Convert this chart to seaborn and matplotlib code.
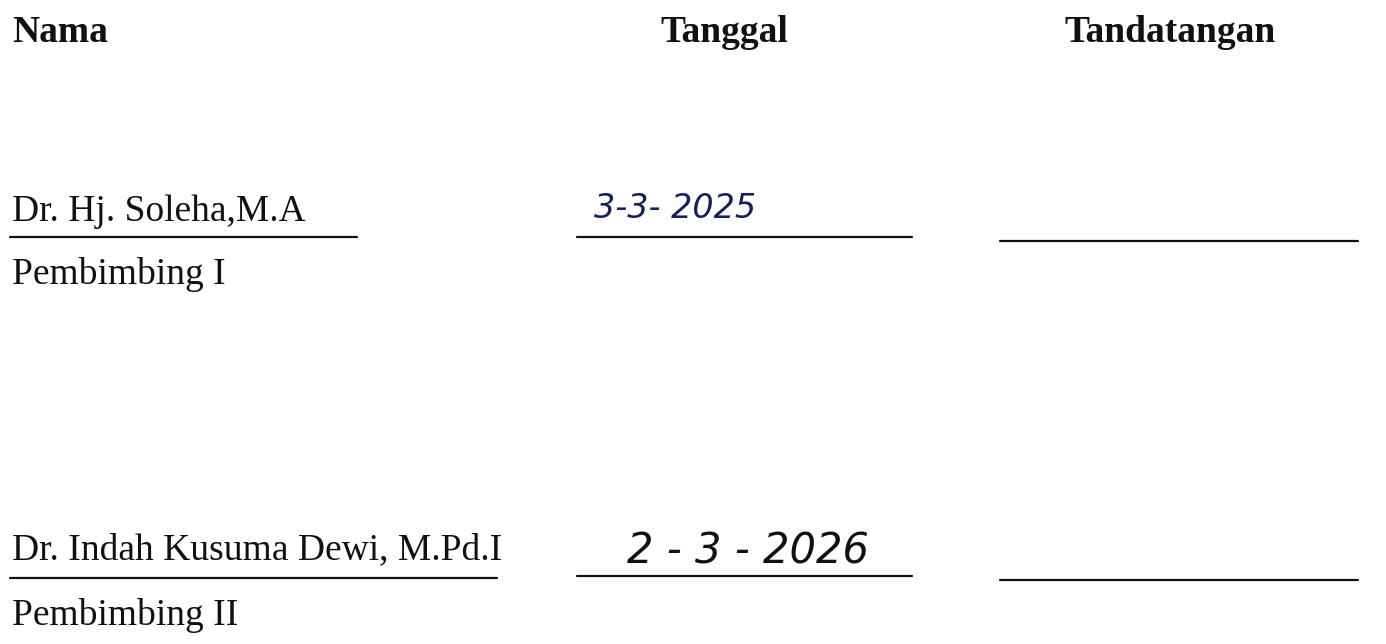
import matplotlib
matplotlib.use("Agg")
import matplotlib.pyplot as plt
import seaborn as sns
import pandas as pd

# ---- content ----
headers = ["Nama", "Tanggal", "Tandatangan"]
names = ["Dr. Hj. Soleha,M.A", "Dr. Indah Kusuma Dewi, M.Pd.I"]
roles = ["Pembimbing I", "Pembimbing II"]
dates = ["3-3- 2025", "2 - 3 - 2026"]
date_colors = ["#16205e", "#111111"]

# ---- layout (pixels) ----
W, H = 1386, 644
header_x = [12, 724, 1170]
header_ha = ["left", "center", "center"]
header_y = 42
name_y = [221, 559]
role_y = [284, 625]
date_x = [675, 748]
date_y = [218, 563]
date_size = [24, 30]
name_line = [(10, 357, 237), (10, 497, 578)]
date_line = [(577, 912, 237), (577, 912, 576)]
sig_line = [(1000, 1358, 241), (1000, 1358, 580)]

sns.set_theme(style="white")
plt.rcParams['font.family'] = ['Liberation Serif', 'DejaVu Serif']

fig = plt.figure(figsize=(W / 100, H / 100), dpi=100)
ax = fig.add_axes([0, 0, 1, 1])

for t, x, ha in zip(headers, header_x, header_ha):
    ax.text(x, header_y, t, fontsize=27, fontweight="bold", ha=ha, va="baseline", color="#111111")

for i in range(2):
    ax.text(12, name_y[i], names[i], fontsize=27, ha="left", va="baseline", color="#111111")
    ax.text(12, role_y[i], roles[i], fontsize=27, ha="left", va="baseline", color="#111111")
    ax.text(date_x[i], date_y[i], dates[i], fontsize=date_size[i], ha="center", va="baseline",
            color=date_colors[i], family=["DejaVu Sans"], style="italic")

all_lines = name_line + date_line + sig_line
segs = pd.DataFrame(
    [(x0, y) for (x0, x1, y) in all_lines] + [(x1, y) for (x0, x1, y) in all_lines],
    columns=["x", "y"])
segs["seg"] = list(range(len(all_lines))) * 2
sns.lineplot(data=segs, x="x", y="y", units="seg", estimator=None, color="#111111",
             linewidth=1.6, ax=ax, sort=False)
ax.set_xlim(0, W)
ax.set_ylim(H, 0)
ax.axis("off")

fig.savefig("out.png", dpi=100)
